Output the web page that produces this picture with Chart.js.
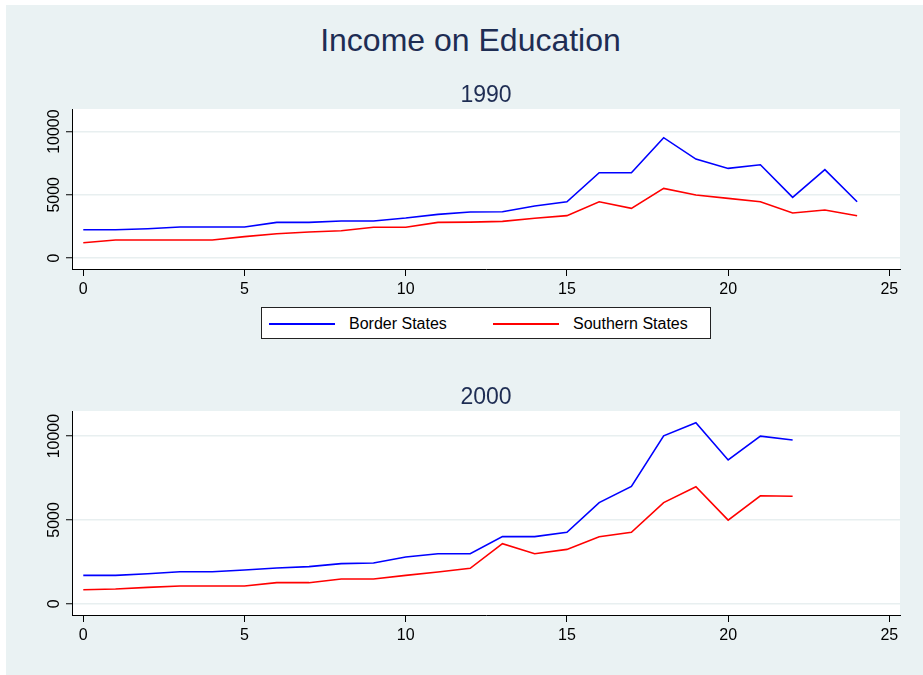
<!DOCTYPE html>
<html>
<head>
<meta charset="utf-8">
<title>Income on Education</title>
<script src="https://cdn.jsdelivr.net/npm/chart.js@4"></script>
<style>
  body { margin: 0; background: #ffffff; overflow: hidden; font-family: "Liberation Sans", Arial, sans-serif; }
  .panel { position: absolute; left: 6px; top: 5px; width: 917px; height: 670px; background: #eaf2f3; }
  .mainTitle { position: absolute; left: 20px; top: 24px; width: 901px; text-align: center; font-size: 32px; line-height: 32px; color: #1e2d53; }
  canvas { position: absolute; left: 6px; }
  .legendBox { position: absolute; left: 261px; top: 307px; width: 448px; height: 30px; background: #fff; border: 1px solid #222; font-size: 16px; color: #000; }
  .legendBox .ln { position: absolute; top: 15px; width: 66px; height: 2px; }
  .legendBox .tx { position: absolute; top: 7px; line-height: 18px; }
</style>
</head>
<body>
<div class="panel"></div>
<div class="mainTitle">Income on Education</div>
<canvas id="chart1990" width="917" height="220" style="top:80px"></canvas>
<canvas id="chart2000" width="917" height="266" style="top:380px"></canvas>
<div class="legendBox">
  <div class="ln" style="left:7px;background:#0000ff"></div>
  <div class="tx" style="left:87px">Border States</div>
  <div class="ln" style="left:231px;background:#ff0000"></div>
  <div class="tx" style="left:311px">Southern States</div>
</div>
<script>
// values
const educ1990 = [0, 1, 2, 3, 4, 5, 6, 7, 8, 9, 10, 11, 12, 13, 14, 15, 16, 17, 18, 19, 20, 21, 22, 23, 24];
const border1990 = [2240, 2240, 2320, 2450, 2450, 2450, 2820, 2820, 2930, 2930, 3160, 3450, 3640, 3660, 4110, 4450, 6750, 6750, 9520, 7830, 7090, 7380, 4800, 6990, 4450];
const southern1990 = [1210, 1420, 1420, 1420, 1420, 1690, 1920, 2060, 2160, 2430, 2430, 2820, 2840, 2900, 3140, 3350, 4450, 3930, 5510, 4980, 4720, 4450, 3560, 3800, 3350];

const educ2000 = [0, 1, 2, 3, 4, 5, 6, 7, 8, 9, 10, 11, 12, 13, 14, 15, 16, 17, 18, 19, 20, 21, 22];
const border2000 = [1690, 1690, 1790, 1910, 1910, 2010, 2130, 2210, 2390, 2430, 2790, 2980, 2980, 4000, 4000, 4260, 6030, 7000, 10020, 10800, 8580, 10000, 9770];
const southern2000 = [835, 880, 975, 1055, 1055, 1055, 1255, 1255, 1470, 1470, 1690, 1890, 2110, 3580, 2980, 3240, 4000, 4260, 6030, 6980, 4990, 6440, 6410];

const xTicks = [0, 5, 10, 15, 20, 25];
const yTicks = [0, 5000, 10000];

const FONT = "'Liberation Sans', Arial, sans-serif";

// white plot region, rotated y labels and panel subtitle
const stataPlugin = {
  id: "stata",
  beforeDraw(chart) {
    const ctx = chart.ctx;
    const a = chart.chartArea;
    ctx.save();
    ctx.fillStyle = "#ffffff";
    ctx.fillRect(a.left, a.top, a.right - a.left, a.bottom - a.top);
    ctx.restore();
  },
  afterDraw(chart, args, opts) {
    const ctx = chart.ctx;
    const a = chart.chartArea;
    const yScale = chart.scales.y;
    ctx.save();
    ctx.fillStyle = "#000";
    ctx.font = "16px " + FONT;
    ctx.textAlign = "center";
    ctx.textBaseline = "alphabetic";
    yScale.ticks.forEach((t) => {
      const py = yScale.getPixelForValue(t.value);
      ctx.save();
      ctx.translate(a.left - 13, py);
      ctx.rotate(-Math.PI / 2);
      ctx.fillText(String(t.value), 0, 0);
      ctx.restore();
    });
    ctx.fillStyle = "#1e2d53";
    ctx.font = "23px " + FONT;
    ctx.fillText(opts.text, (a.left + a.right) / 2, a.top - 7);
    ctx.restore();
  },
};

function makeChart(canvas, subtitle, educ, border, southern, yMin, yMax, topPad) {
  return new Chart(canvas, {
    type: "line",
    data: {
      labels: educ,
      datasets: [
        {
          label: "Border States",
          data: border,
          borderColor: "#0000ff",
          backgroundColor: "#0000ff",
          borderWidth: 1.6,
          pointRadius: 0,
          tension: 0,
        },
        {
          label: "Southern States",
          data: southern,
          borderColor: "#ff0000",
          backgroundColor: "#ff0000",
          borderWidth: 1.6,
          pointRadius: 0,
          tension: 0,
        },
      ],
    },
    options: {
      responsive: false,
      animation: false,
      layout: { padding: { left: 0, right: 23, top: topPad, bottom: 0 } },
      plugins: {
        legend: { display: false },
        tooltip: { enabled: false },
        title: { display: false },
        stata: { text: subtitle },
      },
      scales: {
        x: {
          type: "linear",
          min: -0.35,
          max: 25.33,
          afterBuildTicks: (s) => { s.ticks = xTicks.map((v) => ({ value: v })); },
          afterFit: (s) => { s.height = 31; },
          border: { display: true, color: "#000", width: 1 },
          grid: { drawOnChartArea: false, drawTicks: true, tickLength: 7, tickColor: "#000", tickWidth: 1 },
          ticks: { color: "#000", font: { family: FONT, size: 16 }, padding: 4, maxRotation: 0 },
        },
        y: {
          type: "linear",
          min: yMin,
          max: yMax,
          afterBuildTicks: (s) => { s.ticks = yTicks.map((v) => ({ value: v })); },
          afterFit: (s) => { s.width = 66; },
          border: { display: true, color: "#000", width: 1 },
          grid: { color: "#e8eff0", lineWidth: 1.5, drawTicks: true, tickLength: 6, tickColor: "#000", tickWidth: 1 },
          ticks: { display: false },
        },
      },
    },
    plugins: [stataPlugin],
  });
}

var chart1990 = makeChart(document.getElementById("chart1990"), "1990", educ1990, border1990, southern1990, -870, 11790, 29);
var chart2000 = makeChart(document.getElementById("chart2000"), "2000", educ2000, border2000, southern2000, -674, 11498, 31);
</script>
</body>
</html>
